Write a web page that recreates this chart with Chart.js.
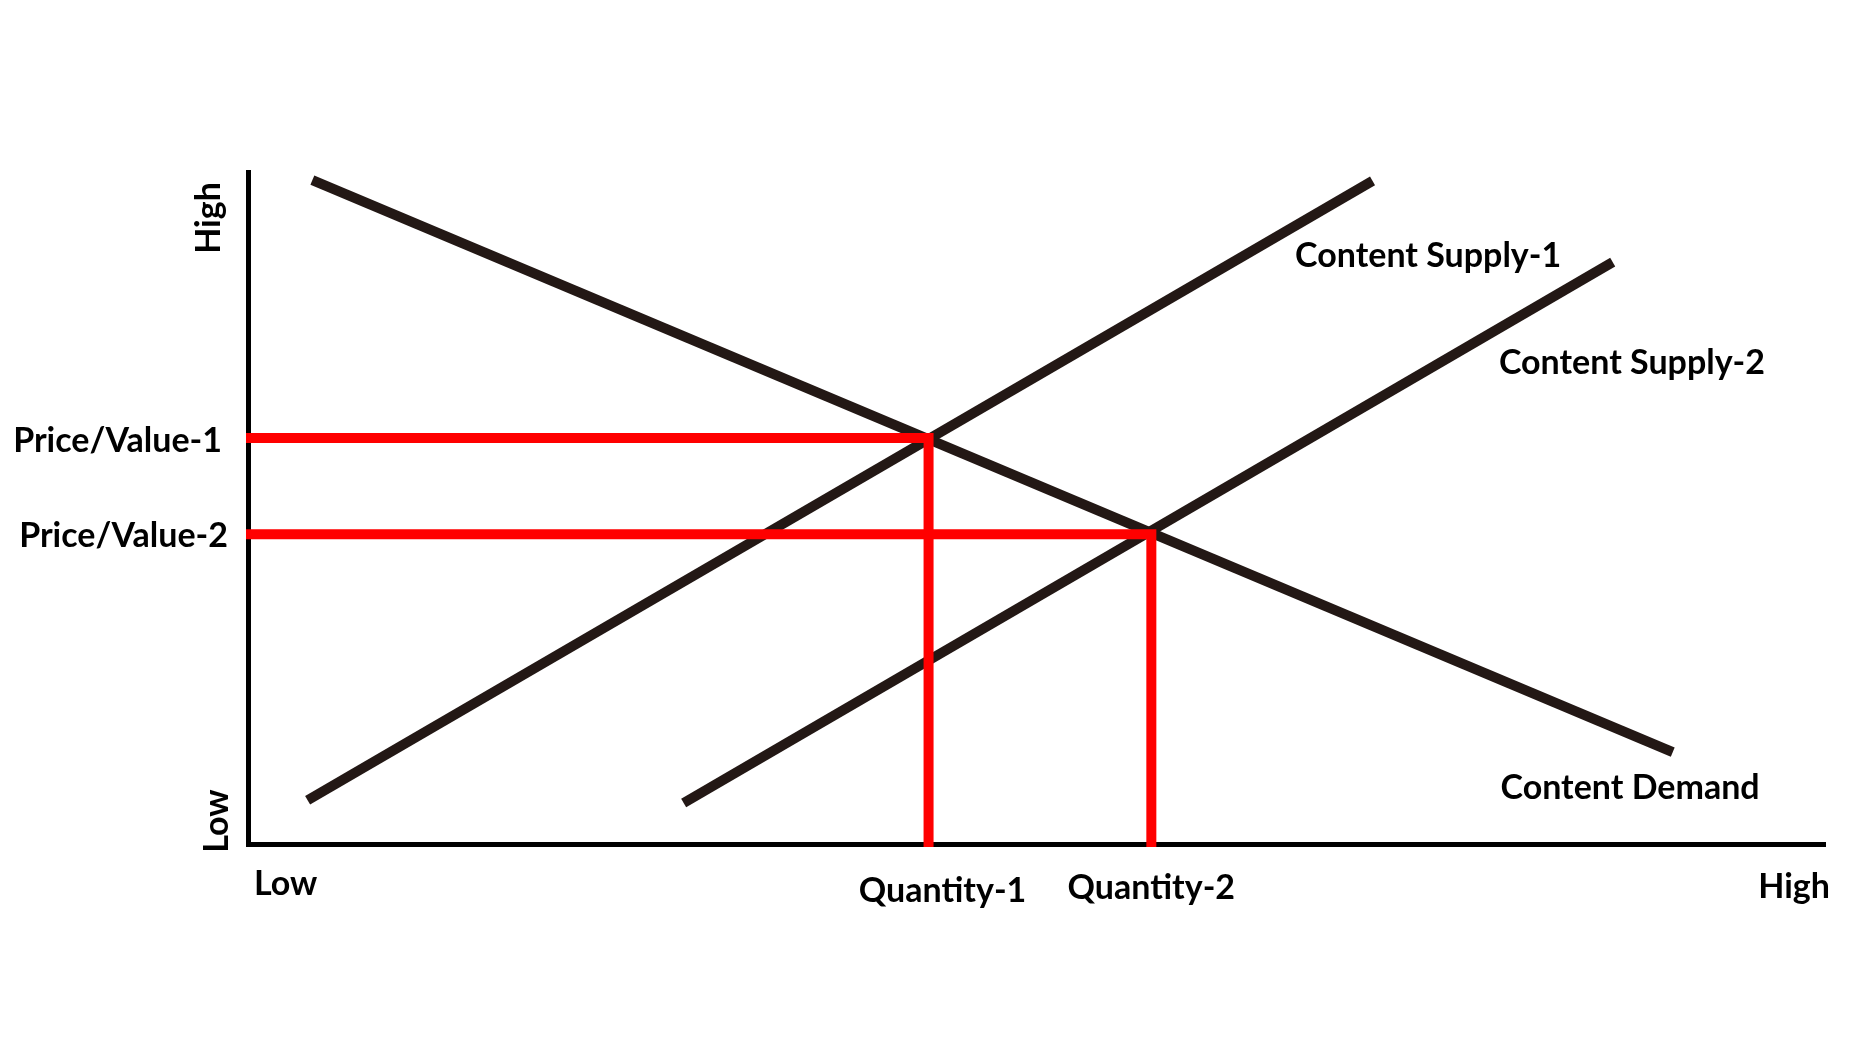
<!DOCTYPE html>
<html>
<head>
<meta charset="utf-8">
<script src="https://cdn.jsdelivr.net/npm/chart.js@4"></script>
<style>
  html, body { margin: 0; padding: 0; background: #ffffff; }
  #wrap { width: 1860px; height: 1046px; position: relative; }
</style>
</head>
<body>
<div id="wrap"><canvas id="c" width="1860" height="1046"></canvas></div>
<script>
// ---- data (abstract units: 0 = Low, 100 = High) ----
const axisMin = 0;
const axisMax = 100;
const quantityLabels = ['Low', 'Quantity-1', 'Quantity-2', 'High'];
const priceLabels = ['Low', 'Price/Value-1', 'Price/Value-2', 'High'];
const curveNames = ['Content Supply-1', 'Content Supply-2', 'Content Demand'];
const demandX = [4.2, 90.3];
const demandY = [98.5, 14.0];
const supply1X = [3.9, 71.3];
const supply1Y = [6.9, 98.4];
const supply2X = [27.7, 86.5];
const supply2Y = [6.5, 86.4];
const equilibriumQ = [43.2, 57.3];   // Quantity-1, Quantity-2
const equilibriumP = [60.4, 46.2];   // Price/Value-1, Price/Value-2

const pts = (xs, ys) => xs.map((v, i) => ({ x: v, y: ys[i] }));
const guide = i => [
  { x: axisMin, y: equilibriumP[i] },
  { x: equilibriumQ[i], y: equilibriumP[i] },
  { x: equilibriumQ[i], y: axisMin }
];

const FONT = 'bold 34px Lato, "Open Sans", sans-serif';
const CURVE = '#231815';
const RED = '#ff0000';

const labelPlugin = {
  id: 'econLabels',
  afterDatasetsDraw(chart) {
    const { ctx, scales: { x, y } } = chart;
    ctx.save();
    ctx.fillStyle = '#000';
    ctx.font = FONT;
    ctx.textBaseline = 'alphabetic';
    const x0 = x.getPixelForValue(axisMin);
    const y0 = y.getPixelForValue(axisMin);

    // x-axis labels
    const xVals = [axisMin, equilibriumQ[0], equilibriumQ[1], axisMax];
    const xAlign = ['left', 'center', 'center', 'right'];
    const xDx = [8, 14, 0, 4];
    const xDy = [48, 55, 52, 51];
    quantityLabels.forEach((t, i) => {
      ctx.textAlign = xAlign[i];
      ctx.fillText(t, x.getPixelForValue(xVals[i]) + xDx[i], y0 + xDy[i]);
    });

    // y-axis: rotated Low / High
    ctx.textAlign = 'center';
    [[priceLabels[0], y.getPixelForValue(axisMin) - 26, x0 - 18],
     [priceLabels[3], y.getPixelForValue(axisMax) + 48, x0 - 26]].forEach(([t, cy, bx]) => {
      ctx.save();
      ctx.translate(bx, cy);
      ctx.rotate(-Math.PI / 2);
      ctx.fillText(t, 0, 0);
      ctx.restore();
    });

    // y-axis: price labels
    ctx.textAlign = 'right';
    ctx.textBaseline = 'middle';
    const pDx = [-24, -18];
    const pDy = [3, 2];
    [priceLabels[1], priceLabels[2]].forEach((t, i) => {
      ctx.fillText(t, x0 + pDx[i], y.getPixelForValue(equilibriumP[i]) + pDy[i]);
    });

    // curve names
    ctx.textAlign = 'left';
    ctx.textBaseline = 'alphabetic';
    const namePos = [[66.4, 85.7], [79.3, 69.9], [79.4, 7.1]];
    curveNames.forEach((t, i) => {
      ctx.fillText(t, x.getPixelForValue(namePos[i][0]), y.getPixelForValue(namePos[i][1]));
    });
    ctx.restore();
  }
};

const lineDs = (label, data, color, order, cap) => ({
  label, data, showLine: true, borderColor: color, backgroundColor: color,
  borderWidth: 10, pointRadius: 0, pointHoverRadius: 0, fill: false,
  borderCapStyle: cap || 'butt', borderJoinStyle: 'miter', tension: 0, order
});

new Chart(document.getElementById('c'), {
  type: 'scatter',
  data: {
    datasets: [
      lineDs('P1', guide(0), RED, 0),
      lineDs('P2', guide(1), RED, 0),
      lineDs(curveNames[2], pts(demandX, demandY), CURVE, 1),
      lineDs(curveNames[0], pts(supply1X, supply1Y), CURVE, 1),
      lineDs(curveNames[1], pts(supply2X, supply2Y), CURVE, 1),
      lineDs('axes', [{ x: axisMin, y: axisMax }, { x: axisMin, y: axisMin }, { x: axisMax, y: axisMin }], '#000', 2)
    ]
  },
  options: {
    responsive: false,
    animation: false,
    events: [],
    layout: { padding: { left: 246, right: 34, top: 170, bottom: 199 } },
    scales: {
      x: { type: 'linear', min: axisMin, max: axisMax, display: false },
      y: { type: 'linear', min: axisMin, max: axisMax, display: false }
    },
    plugins: { legend: { display: false }, tooltip: { enabled: false } }
  },
  plugins: [labelPlugin]
});
</script>
</body>
</html>
